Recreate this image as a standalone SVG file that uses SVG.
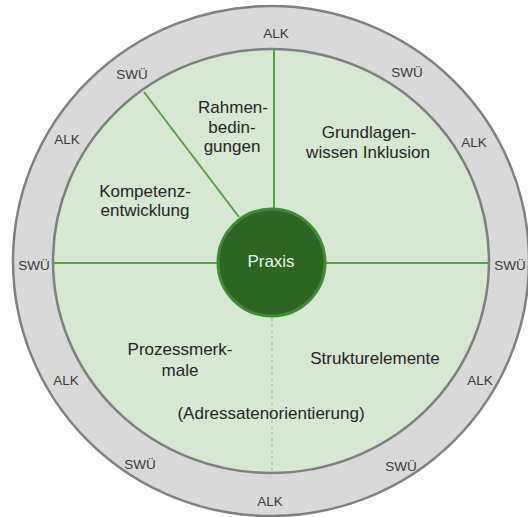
<svg xmlns="http://www.w3.org/2000/svg" width="528" height="517" viewBox="0 0 528 517">
  <style>
    .lbl { font-family: "Liberation Sans", Arial, sans-serif; font-size: 17px; fill: #262626; text-anchor: middle; }
    .ring { font-family: "Liberation Sans", Arial, sans-serif; font-size: 13.5px; fill: #3a3a3a; text-anchor: middle; }
    .spoke { stroke: #5a9e4b; stroke-width: 2; fill: none; }
    .spoke-dash { stroke: #a8cf9f; stroke-width: 1.5; stroke-dasharray: 3 3; fill: none; }
  </style>

  <!-- outer ring with its labels -->
  <g id="ring">
    <ellipse cx="271" cy="261" rx="258" ry="255" fill="#d9d9d9" stroke="#808080" stroke-width="2.5"/>
    <text class="ring" x="276" y="38">ALK</text>
    <text class="ring" x="407" y="77">SWÜ</text>
    <text class="ring" x="474" y="147">ALK</text>
    <text class="ring" x="510" y="270">SWÜ</text>
    <text class="ring" x="480" y="385">ALK</text>
    <text class="ring" x="401" y="471">SWÜ</text>
    <text class="ring" x="270" y="506">ALK</text>
    <text class="ring" x="140" y="469">SWÜ</text>
    <text class="ring" x="66" y="385">ALK</text>
    <text class="ring" x="34" y="270">SWÜ</text>
    <text class="ring" x="67" y="144">ALK</text>
    <text class="ring" x="132" y="79">SWÜ</text>
  </g>

  <!-- inner field -->
  <g id="field">
    <ellipse cx="271" cy="261" rx="218" ry="212" fill="#d6e7d2" stroke="#7f7f7f" stroke-width="2.5"/>
  </g>

  <!-- dividing spokes -->
  <g id="connectors">
    <line class="spoke" x1="274" y1="49" x2="274" y2="209"/>
    <line class="spoke" x1="144" y1="92" x2="239" y2="217"/>
    <line class="spoke" x1="53" y1="263" x2="218" y2="263"/>
    <line class="spoke" x1="325" y1="263" x2="489" y2="263"/>
    <line class="spoke-dash" x1="272" y1="318" x2="272" y2="472"/>
  </g>

  <g id="rahmenbedingungen">
    <text class="lbl" x="233" y="113">Rahmen-</text>
    <text class="lbl" x="232" y="133">bedin-</text>
    <text class="lbl" x="232" y="152">gungen</text>
  </g>

  <g id="grundlagenwissen">
    <text class="lbl" x="369" y="138">Grundlagen-</text>
    <text class="lbl" x="368" y="158">wissen Inklusion</text>
  </g>

  <g id="kompetenzentwicklung">
    <text class="lbl" x="145" y="197">Kompetenz-</text>
    <text class="lbl" x="145" y="216">entwicklung</text>
  </g>

  <g id="prozessmerkmale">
    <text class="lbl" x="180" y="355">Prozessmerk-</text>
    <text class="lbl" x="180" y="376">male</text>
  </g>

  <g id="strukturelemente">
    <text class="lbl" x="375" y="364">Strukturelemente</text>
  </g>

  <g id="adressatenorientierung">
    <text class="lbl" x="271" y="419">(Adressatenorientierung)</text>
  </g>

  <g id="praxis">
    <circle cx="271.5" cy="262.5" r="53.5" fill="#2c6622" stroke="#3e8b34" stroke-width="3"/>
    <text class="lbl" x="271" y="267" style="fill:#eef5ec">Praxis</text>
  </g>
</svg>
